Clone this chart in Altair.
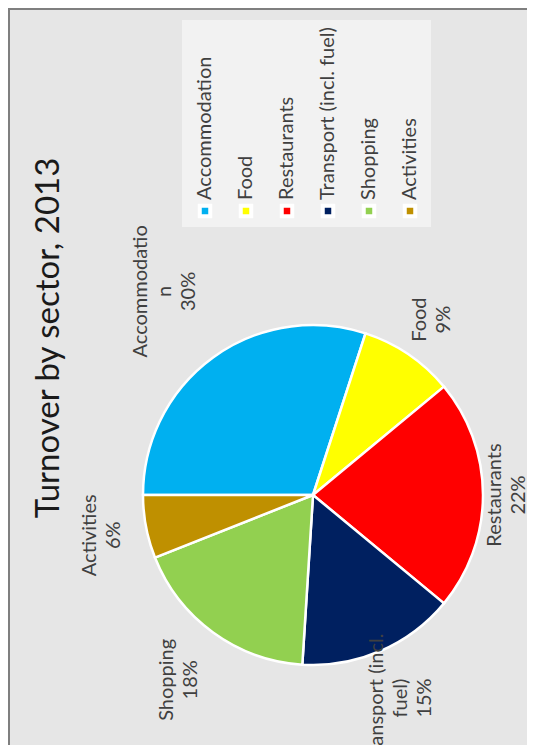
import math
import altair as alt
import pandas as pd

# ---- data ----
categories = ["Accommodation", "Food", "Restaurants", "Transport (incl. fuel)", "Shopping", "Activities"]
shares = [30, 9, 22, 15, 18, 6]
label_names = ["Accommodatio\nn", "Food", "Restaurants", "Transport (incl.\nfuel)", "Shopping", "Activities"]
colors = ["#00b0f0", "#ffff00", "#ff0000", "#002060", "#92d050", "#bf9000"]
title_text = "Turnover by sector, 2013"

labels_txt = [f"{n}\n{v}%" for n, v in zip(label_names, shares)]
df = pd.DataFrame({
    "category": categories,
    "share": shares,
    "order": list(range(len(categories))),
    "label": labels_txt,
    "nlines": [len(t.split("\n")) for t in labels_txt],
    "maxlen": [max(len(s) for s in t.split("\n")) for t in labels_txt],
})

FONT = "Lato"
TXT = "#404040"
W, H = 519, 737
CX, CY = 305, 487
R = 170
FS = 20          # label font size
LH = 24          # line height
CW = 10          # approx char width at FS
GAP = 12
YBOT = 770
XR = W + 4

color_scale = alt.Scale(domain=categories, range=colors)
theta_scale = alt.Scale(range=[1.5 * math.pi, 3.5 * math.pi], domain=[0, 100])

base = alt.Chart(df)

pie = base.mark_arc(outerRadius=R, stroke="white", strokeWidth=2.5).encode(
    theta=alt.Theta("share:Q", stack=True, scale=theta_scale),
    color=alt.Color("category:N", scale=color_scale, legend=None),
    order=alt.Order("order:Q"),
    x=alt.value(CX),
    y=alt.value(CY),
)

labels = base.transform_joinaggregate(
    total="sum(share)"
).transform_window(
    cum="sum(share)", sort=[alt.SortField("order")], frame=[None, 0]
).transform_calculate(
    mid="100*(datum.cum - datum.share/2)/datum.total"
).transform_calculate(
    th="1.5*PI + 2*PI*datum.mid/100"
).transform_calculate(
    rr=f"{R} + {GAP} + abs(sin(datum.th))*datum.nlines*{LH}/2 + abs(cos(datum.th))*datum.maxlen*{CW}/2"
).transform_calculate(
    r2=f"cos(datum.th) < 0 ? min(datum.rr, ({YBOT} - {CY} - datum.maxlen*{CW}/2)/(-cos(datum.th))) : datum.rr"
).transform_calculate(
    lr=f"sin(datum.th) > 0.2 ? min(datum.r2, ({XR} - {CX} - datum.nlines*{LH}/2)/sin(datum.th)) : datum.r2"
).mark_text(
    angle=270, align="center", baseline="middle",
    font=FONT, fontSize=FS, color=TXT, lineBreak="\n", lineHeight=LH,
    dy=alt.expr(f"-(datum.nlines - 1) * {LH} / 2"),
).encode(
    theta=alt.Theta("mid:Q", stack=None, scale=theta_scale),
    radius=alt.Radius("lr:Q", scale=None),
    text="label:N",
    x=alt.value(CX),
    y=alt.value(CY),
)

legend_box = base.mark_rect(color="#f2f2f2").encode(
    x=alt.value(174), x2=alt.value(423), y=alt.value(12), y2=alt.value(219)
)

leg_x = alt.X("category:N", sort=categories,
              scale=alt.Scale(type="point", range=[197, 402], padding=0), axis=None)

legend_sq = base.mark_square(size=110, stroke="white", strokeWidth=4, opacity=1, filled=True).encode(
    x=leg_x,
    y=alt.value(203),
    color=alt.Color("category:N", scale=color_scale, legend=None),
)

legend_txt = base.mark_text(
    angle=270, align="left", baseline="middle", font=FONT, fontSize=FS, color=TXT
).encode(
    x=leg_x,
    y=alt.value(192),
    text="category:N",
)

title = alt.Chart(pd.DataFrame({"t": [title_text]})).mark_text(
    angle=270, align="center", baseline="middle", font=FONT, fontSize=33, color="#1a1a1a"
).encode(x=alt.value(41), y=alt.value(330), text="t:N")

border_left = alt.Chart(pd.DataFrame({"a": [0]})).mark_rule(color="#7f7f7f", strokeWidth=2).encode(
    x=alt.value(1), y=alt.value(0), y2=alt.value(H)
)
border_top = alt.Chart(pd.DataFrame({"a": [0]})).mark_rule(color="#7f7f7f", strokeWidth=2).encode(
    y=alt.value(1), x=alt.value(0), x2=alt.value(W)
)

chart = alt.layer(
    legend_box, pie, labels, legend_sq, legend_txt, title, border_left, border_top
).properties(
    width=W, height=H, background="#e6e6e6", padding=0,
    autosize=alt.AutoSizeParams(type="none"),
).configure_view(stroke=None)

chart.save("out.html", embed_options={"renderer": "svg", "actions": False})
